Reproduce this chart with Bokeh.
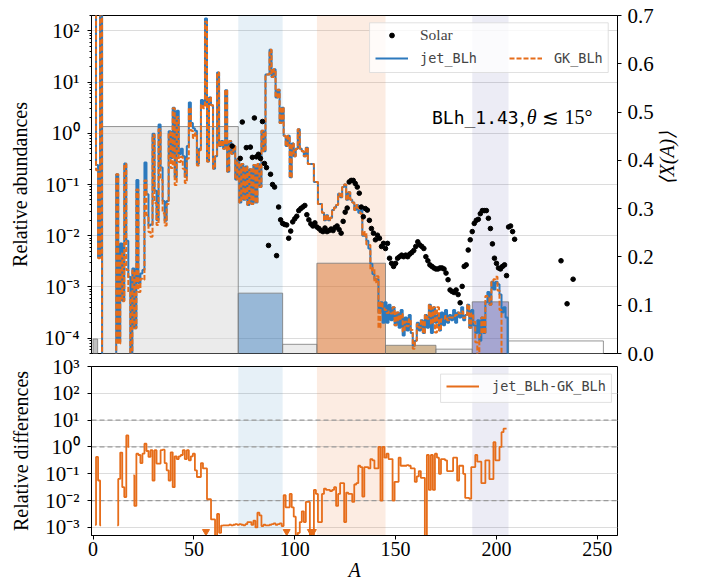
import math
from bokeh.plotting import figure
from bokeh.layouts import column
from bokeh.models import (Range1d, LinearAxis, LinearScale, FixedTicker, CustomJSTickFormatter,
                          PrintfTickFormatter, BoxAnnotation, Span, Legend, LegendItem, Label)
from bokeh.embed import file_html
from bokeh.resources import INLINE

SERIF = "Liberation Serif"
MONO = "DejaVu Sans Mono"
BLUE = "#2c79bd"
ORANGE = "#e66d1a"

# ---------------- data ----------------
mass = list(range(1, 207))
# log10 relative abundances (None = zero)
jet_exp = [
    3.0, -0.62, -2.42, 3.0, None, None, None, None, None, None,
    None, -0.80, -4.08, -2.15, -3.27, -0.59, -2.10, -2.80, None, -2.64,
    -3.81, -0.91, -2.93, -2.74, -2.67, -0.57, -1.19, -1.80, -1.78, -0.01,
    -1.12, -1.70, 0.17, -0.67, -1.32, -1.71, -1.32, 0.04, -0.48, 0.50,
    -0.86, 0.44, -0.41, -0.30, -0.45, -0.85, -0.25, 0.60, 0.20, 0.10,
    0.05, -0.60, -0.30, 0.65, 0.55, 2.24, -0.55, 0.70, 0.55, -0.69,
    -0.45, 1.19, -0.25, -0.15, -0.30, 0.84, -0.75, -0.15, -0.40, -0.25,
    -0.90, -0.50, -1.35, -0.60, -1.30, -0.65, -1.40, -0.70, -1.38, -0.62,
    -1.35, -0.60, -1.05, 0.05, -0.35, 1.15, 1.15, 1.63, 1.10, 1.25,
    0.70, 0.85, 0.20, 0.50, -0.05, -0.25, -0.05, -0.86, -0.20, -0.45,
    -0.30, 0.08, -0.30, -0.35, -0.45, -0.28, -0.60, -0.60, -0.60, -0.95,
    -0.95, -1.38, -1.38, -1.55, -1.70, -1.60, -1.70, -1.65, -1.50, -1.45,
    -1.40, -1.18, -1.25, -1.05, -1.00, -1.30, -1.15, -1.30, -1.35, -1.50,
    -1.40, -1.55, -1.50, -2.00, -2.00, -2.10, -2.25, -2.55, -2.75, -2.85,
    -2.85, -3.50, -3.30, -3.70, -3.30, -3.70, -3.35, -3.65, -3.40, -3.75,
    -3.50, -3.80, -3.45, -3.95, -3.60, -3.85, -3.55, -3.90, -4.15, -4.05,
    -3.70, -3.85, -3.65, -3.90, -3.55, -3.80, -3.35, -3.90, -3.40, -3.70,
    -3.55, -3.85, -3.50, -3.75, -3.45, -3.70, -3.55, -3.65, -3.45, -3.70,
    -3.50, -3.60, -3.40, -3.65, -3.55, -3.35, -3.80, -3.45, -3.75, -3.90,
    -3.65, -4.05, -3.60, -3.90, -3.30, -3.10, -3.35, -2.90, -3.05, -2.90,
    -2.95, -3.15, -3.50, -3.40, -3.60, None,
]
gk_exp = [
    3.0, -0.72, -2.44, 3.0, None, None, None, None, None, None,
    None, -0.80, -4.11, -2.35, -3.28, -0.60, -2.67, -3.10, None, -2.68,
    -3.81, -1.10, -3.10, -2.84, -2.86, -0.92, -1.60, -1.93, -2.02, -0.03,
    -1.36, -1.79, 0.08, -0.91, -1.56, -1.80, -1.38, 0.02, -0.68, 0.49,
    -1.01, 0.32, -0.56, -0.46, -0.69, -0.97, -0.49, 0.49, 0.05, -0.09,
    0.00, -0.63, -0.33, 0.56, 0.49, 2.18, -0.55, 0.70, 0.55, -0.69,
    -0.45, 1.19, -0.25, -0.15, -0.30, 0.84, -0.75, -0.15, -0.40, -0.25,
    -0.90, -0.50, -1.35, -0.60, -1.30, -0.65, -1.40, -0.70, -1.38, -0.62,
    -1.35, -0.60, -1.05, 0.05, -0.35, 1.15, 1.15, 1.63, 1.10, 1.25,
    0.70, 0.85, 0.20, 0.50, -0.05, -0.25, -0.05, -0.86, -0.20, -0.45,
    -0.30, 0.08, -0.30, -0.35, -0.45, -0.28, -0.60, -0.60, -0.60, -0.95,
    -0.95, -1.38, -1.38, -1.55, -1.70, -1.60, -1.70, -1.65, -1.50, -1.45,
    -1.40, -1.18, -1.25, -1.05, -1.00, -1.30, -1.15, -1.30, -1.35, -1.50,
    -1.40, -1.47, -1.57, -2.00, -1.93, -2.17, -2.18, -2.68, -2.63, -2.91,
    -2.79, -3.80, -3.30, -3.40, -3.45, -3.51, -3.48, -3.52, -3.40, -3.75,
    -3.50, -3.65, -3.53, -3.87, -3.68, -3.77, -3.63, -3.84, -4.21, -4.05,
    -3.73, -3.80, -3.65, -3.90, -3.55, -3.62, -3.35, -3.72, -3.40, -3.89,
    -3.40, -3.85, -3.63, -3.62, -3.57, -3.65, -3.60, -3.60, -3.60, -3.55,
    -3.50, -3.52, -3.48, -3.61, -3.55, -3.35, -3.80, -3.52, -3.68, -4.08,
    -4.60, -3.94, -3.60, -3.90, -3.18, -3.22, -3.35, -2.90, -2.85, -2.80,
    -3.07, -3.45, -4.60, None, None, None,
]
diff_mass = list(range(1, 206))
# log10 relative differences jet_BLh vs GK_BLh (None = undefined)
diff_exp = [
    -2.90, -0.37, -1.25, -2.92, None, None, None, None, None, None,
    None, -2.92, -1.19, -0.21, -1.50, -1.87, 0.43, 0.00, None, -1.06,
    -2.20, -0.25, -0.30, -0.60, -0.25, 0.12, -0.15, -0.37, -0.12, -1.25,
    -0.12, -0.62, -0.62, -0.12, -0.10, -0.60, -0.87, -1.25, -0.20, -1.50,
    -0.35, -0.45, -0.35, -0.30, -0.12, -0.45, -0.12, -0.50, -0.35, -0.25,
    -0.87, -1.12, -1.12, -0.60, -0.80, -0.80, -1.95, -1.95, -2.70, -2.70,
    -3.40, -2.50, -3.20, -2.93, -2.92, -2.92, -2.92, -2.90, -2.92, -2.90,
    -2.88, -2.90, -2.88, -2.90, -2.92, -2.88, -2.80, -2.80, -2.90, -2.75,
    -3.00, -2.45, -2.55, -2.95, -2.90, -2.92, -2.92, -2.90, -2.88, -2.85,
    -2.90, -2.88, -2.85, -2.95, -1.80, -2.25, -2.25, -1.75, -2.25, -2.60,
    -3.40, -3.20, -2.80, -2.40, -2.80, -2.05, -2.05, -3.40, -3.40, -1.60,
    -1.75, -2.80, -2.80, -1.75, -1.55, -1.60, -1.60, -1.65, -1.60, -1.50,
    -2.20, -1.75, -1.35, -1.35, -2.80, -1.70, -1.75, -1.75, -2.05, -1.40,
    -1.35, -0.70, -0.75, -1.85, -0.75, -0.75, -0.80, -0.45, -0.50, -0.80,
    -0.80, 0.00, -2.00, 0.00, -0.40, -0.25, -0.45, -0.45, -2.00, -1.30,
    -1.30, -0.40, -0.70, -0.70, -0.70, -0.68, -0.70, -0.80, -0.80, -1.30,
    -1.10, -0.90, -1.15, -1.15, -4.00, -0.30, -1.60, -0.30, -1.60, -0.25,
    -0.40, -1.00, -0.45, -0.45, -0.50, -0.90, -0.90, -0.90, -0.40, -0.40,
    -1.25, -0.70, -0.70, -1.00, -1.90, -1.90, -1.93, -0.75, -0.75, -0.30,
    -0.55, -0.55, -1.35, -1.35, -0.50, -0.50, -1.20, -1.20, 0.18, -0.50,
    -0.50, 0.00, 0.55, 0.68, 0.68,
]
tri_mass = [56, 96, 108, 109]
tri_val = [7e-4, 7e-4, 7e-4, 7e-4]

solar_mass = [69, 73, 74, 76] + list(range(78, 210)) + [232, 235, 238]
solar_exp = [
    -0.25, -0.49, 0.22, -0.28,
    -0.27, -0.47, 0.30, -0.46, -0.41, -0.49, 0.23, -0.59, -0.67, -2.19,
    -0.80, -1.00, -1.05, -2.39, -1.44, -1.69, -1.76, -1.78, -1.79, -2.05,
    -1.91, -1.73, -1.67, -1.62, -1.51, -1.47, -1.44, -1.41, -1.59, -1.69,
    -1.77, -1.81, -1.75, -1.83, -1.86, -1.90, -1.92, -1.85, -1.92, -1.90,
    -1.87, -1.90, -1.84, -1.81, -1.88, -1.95, -1.72, -1.54, -1.46, -0.95,
    -0.92, -0.92, -0.98, -1.05, -1.17, -1.44, -1.63, -1.47, -1.50, -1.70,
    -1.86, -1.95, -2.08, -1.99, -2.05, -2.21, -2.15, -2.25, -2.15, -2.44,
    -2.54, -2.60, -2.54, -2.44, -2.41, -2.38, -2.41, -2.38, -2.41, -2.36,
    -2.33, -2.29, -2.21, -2.12, -2.18, -2.21, -2.25, -2.41, -2.49, -2.57,
    -2.60, -2.63, -2.65, -2.65, -2.63, -2.63, -2.65, -2.73, -2.86, -3.06,
    -3.09, -3.11, -3.06, -3.15, -3.31, -2.99, -2.60, -2.57, -2.28, -2.08,
    -1.92, -1.76, -1.70, -1.68, -1.57, -1.51, -1.51, -1.51, -1.66, -1.86,
    -2.16, -2.44, -2.54, -2.63, -2.65, -2.60, -2.57, -2.78, -1.83, -1.81,
    -1.92, -2.07,
    -2.49, -3.33, -2.85,
]

# <X(A)> histogram bins (right axis)
bin_left = [0, 4.5, 72, 94, 111, 145, 170, 188, 206]
bin_right = [2.3, 72, 94, 111, 145, 170, 188, 206, 253]
bin_x = [0.03, 0.47, 0.125, 0.019, 0.187, 0.017, 0.009, 0.107, 0.026]
bin_color = ["#818181", "#d7d7d7", "#4a7fb8", "#d7d7d7", "#d66f2c",
             "#a56f2b", "#dadada", "#5f5fad", "#ffffff"]

# shaded regions
span_left = [72, 111, 188]
span_right = [94, 145, 206]
span_color = ["#1f77b4", "#e8803a", "#5050a0"]
span_alpha = [0.11, 0.15, 0.11]

left_ticks_top = [1e-4, 1e-3, 1e-2, 1e-1, 1, 10, 100]
left_ticks_bot = [1e-3, 1e-2, 1e-1, 1, 10, 100, 1000]
right_ticks = [0.0, 0.1, 0.2, 0.3, 0.4, 0.5, 0.6, 0.7]
x_ticks = [0, 50, 100, 150, 200, 250]
dash_levels = [10, 1, 0.01]


def to_val(e):
    return 1e-12 if e is None else 10.0 ** e


sup_fmt = CustomJSTickFormatter(code="""
const e = Math.round(Math.log10(tick));
const m = {'-':'\u207b','0':'\u2070','1':'\u00b9','2':'\u00b2','3':'\u00b3','4':'\u2074',
           '5':'\u2075','6':'\u2076','7':'\u2077','8':'\u2078','9':'\u2079'};
let s = '';
for (const c of String(e)) { s += m[c]; }
return '10' + s;
""")


def style_axis(ax, size="21px"):
    ax.axis_line_color = "black"
    ax.major_tick_line_color = "black"
    ax.minor_tick_line_color = "black"
    ax.major_tick_out = 4
    ax.major_tick_in = 0
    ax.minor_tick_out = 2
    ax.minor_tick_in = 0
    ax.major_label_text_font = SERIF
    ax.major_label_text_font_size = size
    ax.major_label_text_color = "black"
    ax.axis_label_text_font = SERIF
    ax.axis_label_text_font_size = "20px"
    ax.axis_label_text_font_style = "normal"
    ax.axis_label_text_color = "black"


# ---------------- top panel ----------------
top = figure(width=702, height=366, x_range=Range1d(-0.75, 260), y_range=Range1d(5e-5, 200),
             y_axis_type="log", output_backend="svg", toolbar_location=None,
             min_border_left=91, min_border_right=85, min_border_top=15, min_border_bottom=13)
top.xaxis.visible = False
top.xgrid.visible = False
top.outline_line_color = "black"
top.outline_line_alpha = 1
top.ygrid.grid_line_color = "#dcdcdc"
top.ygrid.grid_line_width = 1

lax = top.left[0]
lax.ticker = FixedTicker(ticks=left_ticks_top,
                         minor_ticks=[k * 10.0 ** e for e in range(-5, 3) for k in range(2, 10)])
lax.formatter = sup_fmt
lax.axis_label = "Relative abundances"
lax.major_label_standoff = 8
lax.axis_label_standoff = 10
style_axis(lax)

top.extra_y_ranges = {"xa": Range1d(0, 0.7)}
top.extra_y_scales = {"xa": LinearScale()}
rax = LinearAxis(y_range_name="xa", ticker=FixedTicker(ticks=right_ticks),
                 formatter=PrintfTickFormatter(format="%.1f"))
style_axis(rax)
rax.major_label_standoff = 6
rax.axis_label = "⟨X(A)⟩"
rax.axis_label_standoff = 10
rax.axis_label_text_font_style = "italic"
try:
    rax.axis_label_orientation = math.pi / 2
except Exception:
    pass
top.add_layout(rax, "right")

# bottom panel overlaps the top one's lower 13 px border (transparent border)
bot = figure(width=702, height=230, x_range=top.x_range, y_range=Range1d(5e-4, 1e3),
             y_axis_type="log", output_backend="svg", toolbar_location=None,
             min_border_left=91, min_border_right=85, min_border_top=13, min_border_bottom=48)
bot.border_fill_alpha = 0
try:
    bot.margin = (-13, 0, 0, 0)
except Exception:
    pass

for l, r, c, a in zip(span_left, span_right, span_color, span_alpha):
    for fig in (top, bot):
        fig.add_layout(BoxAnnotation(left=l, right=r, fill_color=c, fill_alpha=a,
                                     line_color=None, level="underlay"))

top.quad(left=bin_left, right=bin_right, bottom=0, top=bin_x, y_range_name="xa",
         fill_color=bin_color, fill_alpha=0.5, line_color="#7a7a7a", line_alpha=0.8, line_width=1)

jet_r = top.step(mass, [to_val(e) for e in jet_exp], mode="center",
                 line_color=BLUE, line_width=2)
gk_r = top.step(mass, [to_val(e) for e in gk_exp], mode="center",
                line_color=ORANGE, line_width=2, line_dash="5 2")
sol_r = top.scatter(solar_mass, [10.0 ** e for e in solar_exp], size=4.6,
                    fill_color="black", line_color="black")

top.add_layout(BoxAnnotation(left=137.1, right=255.4, bottom=15.4, top=144,
                             fill_color="white", fill_alpha=0.8,
                             line_color="#d9d9d9", line_alpha=0.8, level="annotation"))

leg_a = Legend(items=[LegendItem(label="Solar", renderers=[sol_r])], location=(284, 308),
               orientation="vertical", label_text_font=SERIF, label_text_font_size="15.5px",
               glyph_width=33, glyph_height=12, label_height=20, label_standoff=12,
               padding=0, margin=0, spacing=0, background_fill_alpha=0, border_line_alpha=0)
leg_b = Legend(items=[LegendItem(label="jet_BLh", renderers=[jet_r]),
                      LegendItem(label="GK_BLh", renderers=[gk_r])], location=(284, 285),
               orientation="horizontal", label_text_font=MONO, label_text_font_size="13.5px",
               glyph_width=33, glyph_height=20, label_height=20, label_standoff=12,
               padding=0, margin=0, spacing=32, background_fill_alpha=0, border_line_alpha=0)
top.add_layout(leg_a)
top.add_layout(leg_b)

top.add_layout(Label(x=211.0, y=2.05, text="BLh_1.43", text_font=MONO, text_font_size="18px",
                     text_align="right", text_baseline="alphabetic", text_color="black"))
top.add_layout(Label(x=211.6, y=2.05, text=",", text_font=SERIF, text_font_size="20px",
                     text_align="left", text_baseline="alphabetic", text_color="black"))
top.add_layout(Label(x=215.0, y=2.05, text="θ", text_font=SERIF, text_font_size="20px",
                     text_font_style="italic",
                     text_align="left", text_baseline="alphabetic", text_color="black"))
top.add_layout(Label(x=222.8, y=2.05, text="≲ 15°", text_font=SERIF, text_font_size="20px",
                     text_align="left", text_baseline="alphabetic", text_color="black"))

# ---------------- bottom panel ----------------
bot.outline_line_color = "black"
bot.outline_line_alpha = 1
bot.xgrid.visible = False
bot.ygrid.grid_line_color = "#dcdcdc"
bot.ygrid.grid_line_width = 1

bl = bot.left[0]
bl.ticker = FixedTicker(ticks=left_ticks_bot)
bl.formatter = sup_fmt
bl.axis_label = "Relative differences"
bl.major_label_standoff = 8
bl.axis_label_standoff = 10
style_axis(bl)

bx = bot.below[0]
bx.ticker = FixedTicker(ticks=x_ticks)
bx.axis_label = "A"
bx.major_label_standoff = 2
bx.axis_label_standoff = 0
style_axis(bx, size="20px")
bx.axis_label_text_font_style = "italic"

for v in dash_levels:
    bot.add_layout(Span(location=v, dimension="width", line_color="#9a9a9a",
                        line_dash="5 3", line_width=1.3, level="underlay"))

runs = []
cx, cy = [], []
for a, e in zip(diff_mass, diff_exp):
    if e is None:
        if cx:
            runs.append((cx, cy))
            cx, cy = [], []
    else:
        cx.append(a)
        cy.append(10.0 ** e)
if cx:
    runs.append((cx, cy))
diff_rs = [bot.step(x, y, mode="center", line_color=ORANGE, line_width=1.8) for x, y in runs]
bot.scatter(tri_mass, tri_val, marker="inverted_triangle", size=7,
            fill_color=ORANGE, line_color=ORANGE)

bot.add_layout(BoxAnnotation(left=172.3, right=257, bottom=45.9, top=521,
                             fill_color="white", fill_alpha=0.8,
                             line_color="#d9d9d9", line_alpha=0.8, level="annotation"))
leg_c = Legend(items=[LegendItem(label="jet_BLh-GK_BLh", renderers=[diff_rs[0]])],
               location=(355, 139), orientation="vertical", label_text_font=MONO,
               label_text_font_size="13.5px", glyph_width=33, glyph_height=20, label_height=20,
               label_standoff=13, padding=0, margin=0, spacing=0,
               background_fill_alpha=0, border_line_alpha=0)
bot.add_layout(leg_c)

layout = column(top, bot)
open("out.html", "w").write(file_html(layout, INLINE))
